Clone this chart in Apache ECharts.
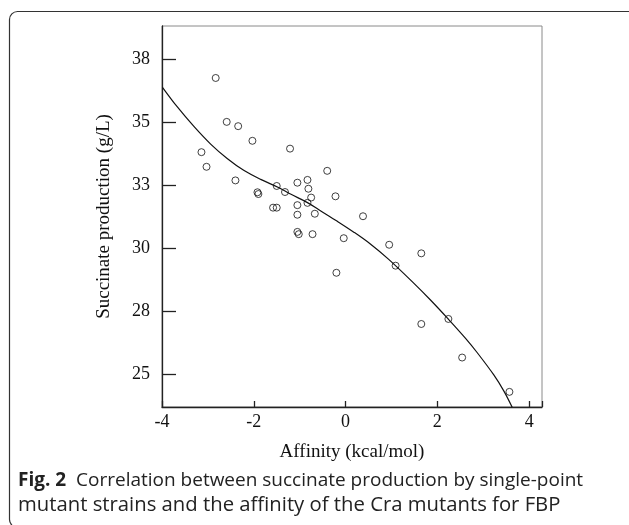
<!DOCTYPE html>
<html>
<head>
<meta charset="utf-8">
<script src="https://cdn.jsdelivr.net/npm/echarts@6/dist/echarts.min.js"></script>
<style>
html,body{margin:0;padding:0;background:#fff;}
#chart{width:629px;height:525px;}
</style>
</head>
<body>
<div id="chart"></div>
<script>
// Observed points (affinity kcal/mol, succinate g/L)
const pointX = [-2.83,-2.59,-2.34,-2.03,-1.21,-3.14,-3.03,-2.40,-0.40,-1.50,-1.92,-1.90,-1.32,-1.05,-0.83,-0.81,-0.75,-0.83,-0.22,-1.58,-1.50,-1.05,-1.05,-0.67,-1.05,-1.02,-0.72,-0.04,-0.20,0.38,0.95,1.65,1.09,1.65,2.24,2.54,3.57];
const pointY = [36.74,35.00,34.83,34.25,33.94,33.80,33.22,32.68,33.06,32.46,32.21,32.14,32.22,32.59,32.70,32.35,32.00,31.79,32.05,31.60,31.60,31.70,31.32,31.36,30.64,30.55,30.55,30.39,29.02,31.26,30.13,29.79,29.30,26.99,27.19,25.66,24.30];
// Fitted curve
const curveX = [-3.99,-3.67,-3.31,-2.94,-2.58,-2.22,-1.85,-1.45,-1.20,-0.83,-0.54,-0.18,0.18,0.54,0.94,1.49,1.85,2.22,2.61,2.87,3.23,3.45,3.63];
const curveY = [36.37,35.60,34.83,34.12,33.55,33.08,32.72,32.39,32.14,31.80,31.47,31.06,30.63,30.16,29.55,28.60,27.94,27.22,26.43,25.85,24.97,24.33,23.69];
const yTickValues = [25,27.5,30,32.5,35,37.5];
const yTickLabels = ['25','28','30','33','35','38'];
const xTickLabels = ['-4','-2','0','2','4'];
const xName = 'Affinity (kcal/mol)';
const yName = 'Succinate production (g/L)';
const captionBold = 'Fig. 2';
const captionLine1 = 'Correlation between succinate production by single-point';
const captionLine2 = 'mutant strains and the affinity of the Cra mutants for FBP';

const chart = echarts.init(document.getElementById('chart'), null, {renderer:'canvas'});
const serif = 'Liberation Serif, Times New Roman, serif';
const option = {
  animation: false,
  backgroundColor: '#fff',
  grid: {left:162, top:26, right:87, bottom:118, show:true, borderColor:'#8a8a8a', borderWidth:1},
  xAxis: {
    type:'value', min:-4, max:4.28, interval:2,
    name: xName, nameLocation:'middle', nameGap:36,
    nameTextStyle:{fontFamily:serif, fontSize:19, color:'#111'},
    axisLine:{onZero:false, lineStyle:{color:'#222', width:1.3}},
    axisTick:{inside:true, length:6, lineStyle:{color:'#222', width:1.3}},
    splitLine:{show:false},
    axisLabel:{margin:6, fontFamily:serif, fontSize:18, color:'#111',
      formatter:(v)=>{const i=Math.round((v+4)/2); return (Math.abs(v-(-4+2*i))<1e-6 && i>=0 && i<xTickLabels.length)?xTickLabels[i]:'';}}
  },
  yAxis: {
    type:'value', min:23.7, max:38.8,
    name: yName, nameLocation:'middle', nameGap:48,
    nameTextStyle:{fontFamily:serif, fontSize:19, color:'#111'},
    axisLine:{onZero:false, lineStyle:{color:'#222', width:1.3}},
    axisTick:{inside:true, length:14, customValues:yTickValues, lineStyle:{color:'#222', width:1.3}},
    splitLine:{show:false},
    axisLabel:{margin:12, customValues:yTickValues, fontFamily:serif, fontSize:18, color:'#111',
      formatter:(v)=>{const i=yTickValues.findIndex(t=>Math.abs(t-v)<1e-6); return i>=0?yTickLabels[i]:'';}}
  },
  series: [
    {type:'line', data: curveX.map((x,i)=>[x,curveY[i]]), smooth:0.35, showSymbol:false, symbol:'none',
     lineStyle:{color:'#111', width:1.2}, clip:true, z:2},
    {type:'scatter', data: pointX.map((x,i)=>[x,pointY[i]]), symbol:'circle', symbolSize:7,
     itemStyle:{color:'rgba(255,255,255,0)', borderColor:'#111', borderWidth:1}, z:3}
  ],
  graphic: [
    {type:'rect', left:7, top:9, shape:{width:640, height:516, r:8}, style:{fill:'none', stroke:'#333', lineWidth:1.2}, silent:true},
    {type:'text', left:18, top:469, style:{
      text:'{b|'+captionBold+'}  {r|'+captionLine1+'}\n{r2|'+captionLine2+'}',
      font:'19px "Open Sans", sans-serif', fill:'#222', lineHeight:24,
      rich:{
        b:{fontWeight:'bold', fontFamily:'Open Sans', fontSize:19, fill:'#222', lineHeight:24},
        r:{fontFamily:'Open Sans', fontSize:19, fill:'#222', lineHeight:24},
        r2:{fontFamily:'Open Sans', fontSize:20.3, fill:'#222', lineHeight:24}
      }
    }}
  ]
};
chart.setOption(option);
</script>
</body>
</html>
